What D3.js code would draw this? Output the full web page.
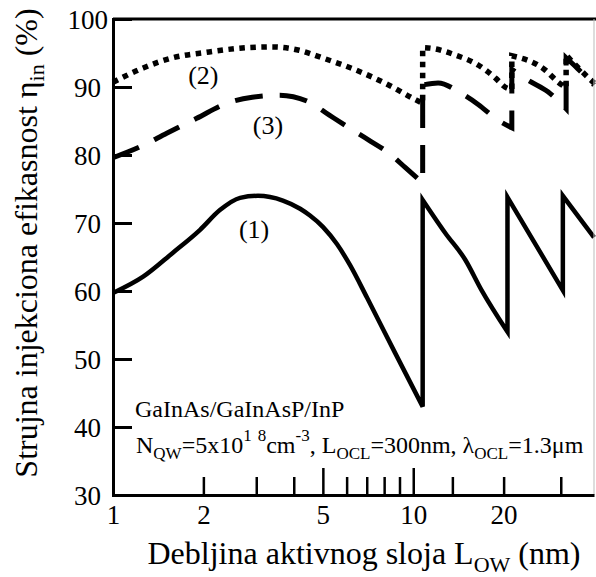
<!DOCTYPE html>
<html>
<head>
<meta charset="utf-8">
<script src="https://cdn.jsdelivr.net/npm/d3@7"></script>
<style>
  html, body { margin: 0; padding: 0; background: #fff; }
  svg { display: block; }
  svg text { font-family: "Liberation Serif", "Times New Roman", serif; fill: #000; }
</style>
</head>
<body>
<svg id="chart" width="596" height="577"></svg>
<script>
// Active-layer thickness L_QW (nm). A repeated thickness marks a jump,
// where the injection efficiency changes abruptly as a new level enters the well.
const thickness1 = [1.0, 1.26, 1.58, 1.95, 2.27, 2.65, 3.04, 3.68, 4.20, 4.53, 5.01, 5.57, 6.16, 7.02, 8.70, 10.75,
                    10.75, 12.8, 14.9, 16.9, 20.6,
                    20.6, 31.5,
                    31.5, 40];
const efficiency1 = [59.7, 62.1, 65.6, 69.0, 71.9, 73.7, 74.0, 73.3, 72.1, 71.1, 69.4, 66.9, 63.8, 59.0, 50.9, 43.0,
                     73.4, 68.5, 64.6, 60.1, 54.0,
                     73.8, 60.1,
                     74.0, 67.9];

const thickness2 = [1.0, 1.26, 1.58, 2.05, 2.64, 3.39, 4.17, 4.97, 6.44, 8.28, 10.2, 10.75,
                    10.75, 11.5, 13.8, 16.5, 18.8, 20.2, 21.3,
                    21.3, 27.5, 30.4, 32.3,
                    32.3, 35.3, 40];
const efficiency2 = [90.7, 92.8, 94.3, 95.1, 95.7, 95.9, 95.4, 94.3, 92.5, 90.3, 88.1, 87.6,
                     95.8, 95.7, 94.7, 93.2, 91.3, 90.0, 89.6,
                     94.6, 92.5, 90.7, 89.9,
                     94.7, 92.9, 90.6];

const thickness3 = [1.0, 1.23, 1.51, 1.90, 2.39, 2.91, 3.58, 4.50, 5.24, 6.11, 7.11, 8.28, 9.44, 10.75,
                    10.75, 12.1, 14.4, 16.5, 19.2, 21.3,
                    21.3, 24.1, 28.1, 32.3,
                    32.3, 35.3, 40];
const efficiency3 = [79.6, 81.2, 83.2, 85.4, 87.6, 88.5, 88.8, 87.8, 85.9, 84.0, 82.2, 80.3, 78.1, 75.9,
                     90.3, 90.6, 89.1, 87.4, 85.1, 84.0,
                     92.6, 91.0, 89.3, 86.8,
                     94.3, 92.7, 90.3];

const curveNames = ["(1)", "(2)", "(3)"];
const curveLabelAt = [[2.95, 67.8], [2.0, 90.4], [3.28, 83.1]];

const xLabelTicks = [1, 2, 5, 10, 20];
const xLongTicks = [5, 10];
const xShortTicks = [2, 3, 4, 6, 7, 8, 9, 13.5, 20, 31];
const yTicks = [30, 40, 50, 60, 70, 80, 90, 100];

const serif = '"Liberation Serif", "Times New Roman", serif';
const svg = d3.select("#chart");
const plotLeft = 113, plotRight = 594, plotTop = 19, plotBottom = 495;

const x = d3.scaleLog().domain([1, 40]).range([plotLeft, plotRight]);
const y = d3.scaleLinear().domain([30, 100]).range([plotBottom, plotTop]);

const line = d3.line()
  .x(d => x(d[0]))
  .y(d => y(d[1]))
  .curve(d3.curveMonotoneX);

// Split a series at repeated thickness values and join the smooth pieces
// with vertical jump segments into one continuous path.
function seriesPath(xs, ys) {
  const segments = [];
  let current = [];
  xs.forEach((v, i) => {
    if (i > 0 && v === xs[i - 1]) { segments.push(current); current = []; }
    current.push([v, ys[i]]);
  });
  segments.push(current);
  return segments.map((s, i) => {
    const p = line(s);
    return i === 0 ? p : "L" + p.slice(1);
  }).join("");
}

const curves = svg.append("g").attr("fill", "none").attr("stroke", "#000");
curves.append("path")
  .attr("d", seriesPath(thickness1, efficiency1))
  .attr("stroke-width", 4.5)
  .attr("stroke-linejoin", "miter");
curves.append("path")
  .attr("d", seriesPath(thickness2, efficiency2))
  .attr("stroke-width", 5.5)
  .attr("stroke-dasharray", "5.5,5.5");
curves.append("path")
  .attr("d", seriesPath(thickness3, efficiency3))
  .attr("stroke-width", 5)
  .attr("stroke-dasharray", "28,17");

// Frame: thick left/bottom/top, thin right border
svg.append("line").attr("x1", plotLeft).attr("x2", 596).attr("y1", plotTop).attr("y2", plotTop)
  .attr("stroke", "#000").attr("stroke-width", 3);
svg.append("line").attr("x1", plotRight).attr("x2", plotRight).attr("y1", plotTop).attr("y2", plotBottom)
  .attr("stroke", "#bbb").attr("stroke-width", 1);

// Y axis with inward ticks
const yAxis = svg.append("g")
  .attr("transform", `translate(${plotLeft},0)`)
  .call(d3.axisLeft(y).tickValues(yTicks).tickSize(-19).tickPadding(12).tickFormat(d3.format("d")))
  .attr("font-family", null).attr("font-size", null);
yAxis.select(".domain").attr("stroke", "#000").attr("stroke-width", 3);
yAxis.selectAll(".tick line").attr("stroke", "#000").attr("stroke-width", 3);
yAxis.selectAll(".tick text")
  .style("font-family", serif)
  .style("font-size", "27px")
  .attr("dy", "0.34em")
  .attr("x", d => d === 100 ? -5 : -12);

// X axis: labels, short inward ticks and long inward ticks
const xLabels = svg.append("g")
  .attr("transform", `translate(0,${plotBottom})`)
  .call(d3.axisBottom(x).tickValues(xLabelTicks).tickSize(0).tickPadding(10).tickFormat(d3.format("d")))
  .attr("font-family", null).attr("font-size", null);
xLabels.select(".domain").attr("stroke", "#000").attr("stroke-width", 3);
xLabels.selectAll(".tick text")
  .style("font-family", serif)
  .style("font-size", "27px")
  .attr("dy", "0.72em");

const xShort = svg.append("g")
  .attr("transform", `translate(0,${plotBottom})`)
  .call(d3.axisBottom(x).tickValues(xShortTicks).tickSize(-18).tickFormat(""));
xShort.select(".domain").remove();
xShort.selectAll(".tick line").attr("stroke", "#000").attr("stroke-width", 2.5);

const xLong = svg.append("g")
  .attr("transform", `translate(0,${plotBottom})`)
  .call(d3.axisBottom(x).tickValues(xLongTicks).tickSize(-27).tickFormat(""));
xLong.select(".domain").remove();
xLong.selectAll(".tick line").attr("stroke", "#000").attr("stroke-width", 2.5);

// Axis titles
const xTitle = svg.append("text")
  .attr("x", 364).attr("y", 564)
  .attr("text-anchor", "middle")
  .style("font-family", serif)
  .style("font-size", "32px");
xTitle.append("tspan").text("Debljina aktivnog sloja L");
xTitle.append("tspan").style("font-size", "22px").attr("dy", 8).text("OW");
xTitle.append("tspan").attr("dy", -8).text(" (nm)");

const yTitle = svg.append("text")
  .attr("transform", "translate(37,243) rotate(-90)")
  .attr("text-anchor", "middle")
  .style("font-family", serif)
  .style("font-size", "32px");
yTitle.append("tspan").text("Strujna injekciona efikasnost η");
yTitle.append("tspan").style("font-size", "22px").attr("dy", 7).text("in");
yTitle.append("tspan").attr("dy", -7).text(" (%)");

// Curve labels
svg.append("g").selectAll("text")
  .data(curveNames)
  .join("text")
  .attr("x", (d, i) => x(curveLabelAt[i][0]))
  .attr("y", (d, i) => y(curveLabelAt[i][1]))
  .attr("text-anchor", "middle")
  .style("font-family", serif)
  .style("font-size", "26px")
  .text(d => d);

// Structure and parameters
svg.append("text")
  .attr("x", 135).attr("y", 417)
  .style("font-family", serif)
  .style("font-size", "24px")
  .text("GaInAs/GaInAsP/InP");

const params = svg.append("text")
  .attr("x", 136).attr("y", 453)
  .style("font-family", serif)
  .style("font-size", "24px");
params.append("tspan").text("N");
params.append("tspan").style("font-size", "17px").attr("dy", 6).text("QW");
params.append("tspan").attr("dy", -6).text("=5x10");
params.append("tspan").style("font-size", "17px").attr("dy", -12).text("1");
params.append("tspan").style("font-size", "17px").attr("dx", 6).text("8");
params.append("tspan").attr("dy", 12).text("cm");
params.append("tspan").style("font-size", "17px").attr("dy", -12).text("-3");
params.append("tspan").attr("dy", 12).text(", L");
params.append("tspan").style("font-size", "17px").attr("dy", 6).text("OCL");
params.append("tspan").attr("dy", -6).text("=300nm, λ");
params.append("tspan").style("font-size", "17px").attr("dy", 6).text("OCL");
params.append("tspan").attr("dy", -6).text("=1.3μm");
</script>
</body>
</html>
